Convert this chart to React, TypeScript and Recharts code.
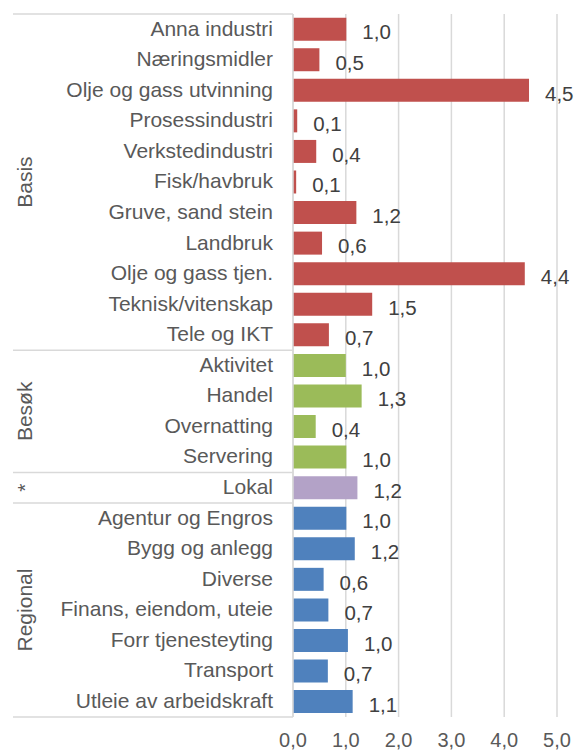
// Horizontal bar chart, grouped industries
import React from "react";
import { BarChart, Bar, XAxis, YAxis, CartesianGrid, Cell, LabelList } from "recharts";

const basisNames = [
  "Anna industri",
  "Næringsmidler",
  "Olje og gass utvinning",
  "Prosessindustri",
  "Verkstedindustri",
  "Fisk/havbruk",
  "Gruve, sand stein",
  "Landbruk",
  "Olje og gass tjen.",
  "Teknisk/vitenskap",
  "Tele og IKT",
];
const basisValues = [1.01, 0.5, 4.47, 0.08, 0.44, 0.06, 1.2, 0.55, 4.39, 1.5, 0.68];

const besokNames = ["Aktivitet", "Handel", "Overnatting", "Servering"];
const besokValues = [1.0, 1.3, 0.43, 1.01];

const lokalNames = ["Lokal"];
const lokalValues = [1.22];

const regionalNames = [
  "Agentur og Engros",
  "Bygg og anlegg",
  "Diverse",
  "Finans, eiendom, uteie",
  "Forr tjenesteyting",
  "Transport",
  "Utleie av arbeidskraft",
];
const regionalValues = [1.01, 1.17, 0.58, 0.67, 1.04, 0.66, 1.13];

const groupLabels = ["Basis", "Besøk", "*", "Regional"];
const groupColors = ["#C0504D", "#9BBB59", "#B3A2C7", "#4F81BD"];
const xTicks = [0, 1, 2, 3, 4, 5];

const groups = [
  { names: basisNames, values: basisValues },
  { names: besokNames, values: besokValues },
  { names: lokalNames, values: lokalValues },
  { names: regionalNames, values: regionalValues },
];

const data = groups.flatMap((g, gi) =>
  g.names.map((name, i) => ({
    name,
    value: g.values[i],
    group: gi,
    first: i === 0,
    count: g.names.length,
  }))
);

const fmt = (v: number) => v.toFixed(1).replace(".", ",");

const AXIS_W = 280;
const LINE = "#d9d9d9";
const TEXT = "#595959";
const FONT = "'Liberation Sans', Arial, sans-serif";

const CategoryTick = (props: any) => {
  const { x, y, payload, index, height } = props;
  const row = data[index];
  const half = payload?.offset ?? height / data.length / 2;
  const left = x - AXIS_W;
  const isLast = index === data.length - 1;
  const gx = left + 12;
  const gy = y - half + row.count * half;
  return (
    <g>
      <text x={x - 20} y={y} dy="0.3em" textAnchor="end" fill={TEXT} fontSize={21} fontFamily={FONT}>
        {row.name}
      </text>
      {row.first && (
        <>
          <line x1={left} x2={x} y1={y - half} y2={y - half} stroke={LINE} strokeWidth={1.5} />
          <text
            x={gx}
            y={gy}
            dy="0.355em"
            textAnchor="middle"
            transform={`rotate(-90 ${gx} ${gy})`}
            fill={TEXT}
            fontSize={21}
            fontFamily={FONT}
          >
            {groupLabels[row.group]}
          </text>
        </>
      )}
      {isLast && (
        <line x1={left} x2={x} y1={y + half} y2={y + half} stroke={LINE} strokeWidth={1.5} />
      )}
    </g>
  );
};

const ValueLabel = (props: any) => {
  const { x, y, width, height, value } = props;
  return (
    <text
      x={x + width + 16}
      y={y + height / 2 + 3}
      dy="0.355em"
      fill="#404040"
      fontSize={20.5}
      fontFamily={FONT}
    >
      {fmt(value)}
    </text>
  );
};

export default function App() {
  return (
    <div style={{ position: "absolute", left: 0, top: 0, background: "#fff" }}>
      <BarChart
        width={577}
        height={753}
        data={data}
        layout="vertical"
        margin={{ top: 14, right: 20, bottom: 0, left: 13 }}
        barCategoryGap="12%"
      >
        <CartesianGrid horizontal={false} stroke={LINE} strokeWidth={1.5} />
        <XAxis
          type="number"
          domain={[0, 5]}
          ticks={xTicks}
          tickFormatter={fmt}
          axisLine={false}
          tickLine={false}
          tickSize={0}
          tickMargin={16}
          height={36}
          tick={{ fill: TEXT, fontSize: 20, fontFamily: FONT }}
        />
        <YAxis
          type="category"
          dataKey="name"
          width={AXIS_W}
          interval={0}
          tickLine={false}
          tickSize={0}
          tickMargin={0}
          axisLine={{ stroke: LINE, strokeWidth: 1.5 }}
          tick={<CategoryTick />}
        />
        <Bar dataKey="value" isAnimationActive={false}>
          {data.map((d, i) => (
            <Cell key={i} fill={groupColors[d.group]} />
          ))}
          <LabelList dataKey="value" content={<ValueLabel />} />
        </Bar>
      </BarChart>
    </div>
  );
}
